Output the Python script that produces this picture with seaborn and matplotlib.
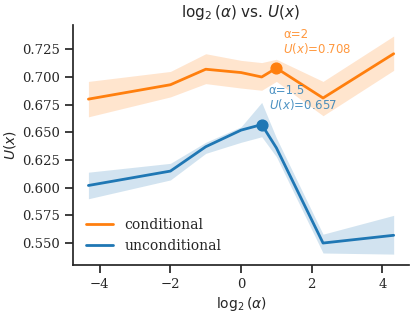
import matplotlib

matplotlib.use("Agg")

import matplotlib.pyplot as plt
import numpy as np
import pandas as pd
import seaborn as sns

# alpha values sampled in the sweep
alphas = [0.05, 0.25, 0.5, 1.0, 1.5, 2.0, 5.0, 20.0]

cond_mean = [0.680, 0.693, 0.707, 0.704, 0.700, 0.708, 0.681, 0.721]
cond_low = [0.664, 0.682, 0.694, 0.690, 0.688, 0.696, 0.665, 0.706]
cond_high = [0.696, 0.705, 0.721, 0.715, 0.713, 0.716, 0.696, 0.737]

uncond_mean = [0.602, 0.615, 0.637, 0.652, 0.657, 0.636, 0.550, 0.557]
uncond_low = [0.590, 0.607, 0.631, 0.641, 0.646, 0.628, 0.541, 0.540]
uncond_high = [0.614, 0.622, 0.641, 0.655, 0.677, 0.645, 0.558, 0.575]

series = ["conditional", "unconditional"]
colors = {"conditional": "#ff7f0e", "unconditional": "#1f77b4"}

sns.set_theme(style="ticks")
plt.rcParams["font.family"] = ["DejaVu Serif"]
plt.rcParams["mathtext.fontset"] = "dejavusans"

log_alpha = np.log2(alphas)
frame = pd.DataFrame(
    {
        "log_alpha": np.concatenate([log_alpha, log_alpha]),
        "U": cond_mean + uncond_mean,
        "lo": cond_low + uncond_low,
        "hi": cond_high + uncond_high,
        "mode": ["conditional"] * len(alphas) + ["unconditional"] * len(alphas),
    }
)

fig, ax = plt.subplots(figsize=(4.11, 3.14), dpi=100)
fig.subplots_adjust(left=0.178, right=0.995, bottom=0.156, top=0.92)

for name in series:
    sub = frame[frame["mode"] == name]
    ax.fill_between(sub["log_alpha"], sub["lo"], sub["hi"], color=colors[name], alpha=0.2, linewidth=0)

sns.lineplot(
    data=frame,
    x="log_alpha",
    y="U",
    hue="mode",
    hue_order=series,
    palette=colors,
    linewidth=2,
    ax=ax,
)

# best point of each curve
best = [("conditional", 2.0, 0.708), ("unconditional", 1.5, 0.657)]
for name, a, u in best:
    ax.scatter([np.log2(a)], [u], color=colors[name], s=60, zorder=5)
    ax.text(np.log2(a) + 0.2, u + 0.011, f"α={a:g}\n$U(x)$={u:.3f}", color=colors[name],
            fontsize=8.5, family="DejaVu Sans", alpha=0.8, va="bottom", linespacing=1.0)

ax.set_title(r"$\log_2(\alpha)$ vs. $U(x)$", fontsize=11, family="DejaVu Sans")
ax.set_xlabel(r"$\log_2(\alpha)$", fontsize=10, labelpad=3)
ax.set_ylabel(r"$U(x)$", fontsize=10, labelpad=3)
ax.set_xticks([-4, -2, 0, 2, 4])
ax.set_yticks([0.55, 0.575, 0.6, 0.625, 0.65, 0.675, 0.7, 0.725])
ax.yaxis.set_major_formatter(matplotlib.ticker.FormatStrFormatter("%.3f"))
ax.tick_params(labelsize=9.5)
ax.legend(title=None, frameon=False, loc="lower left", fontsize=10)
sns.despine(ax=ax)

fig.savefig("out.png", dpi=100)
